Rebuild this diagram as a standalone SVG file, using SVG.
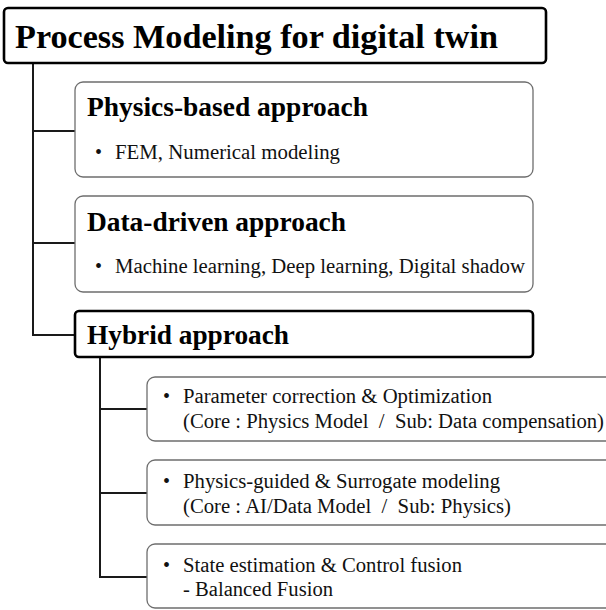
<svg xmlns="http://www.w3.org/2000/svg" width="606" height="610" viewBox="0 0 606 610">
  <style>
    .root { fill: #fff; stroke: #000; stroke-width: 2.6; }
    .main { fill: #fff; stroke: #000; stroke-width: 2.6; }
    .sub { fill: #fff; stroke: #6e6e6e; stroke-width: 1.3; }
    .wire { fill: none; stroke: #1a1a1a; stroke-width: 2; }
    text { font-family: "Liberation Serif", "Times New Roman", serif; fill: #000; }
    .h0 { font-size: 33px; font-weight: bold; }
    .h1 { font-size: 28px; font-weight: bold; }
    .b { font-size: 20px; fill: #111; }
  </style>

  <g id="connectors">
    <path class="wire" d="M33 63 V335 H75 M33 131 H75 M33 243 H75"/>
    <path class="wire" d="M100 357 V577 H147 M100 409 H147 M100 493 H147"/>
  </g>

  <g id="root">
    <rect class="root" x="4" y="8" width="542" height="55" rx="4"/>
    <text class="h0" x="15" y="48" textLength="483" lengthAdjust="spacingAndGlyphs">Process Modeling for digital twin</text>
  </g>

  <g id="physics">
    <rect class="sub" x="75" y="82" width="458" height="95" rx="8"/>
    <text class="h1" x="87" y="116" textLength="281" lengthAdjust="spacingAndGlyphs">Physics-based approach</text>
    <text class="b" x="95" y="159">•</text>
    <text class="b" x="115" y="159" textLength="225" lengthAdjust="spacingAndGlyphs">FEM, Numerical modeling</text>
  </g>

  <g id="data">
    <rect class="sub" x="75" y="196" width="458" height="96" rx="8"/>
    <text class="h1" x="87" y="231" textLength="259" lengthAdjust="spacingAndGlyphs">Data-driven approach</text>
    <text class="b" x="95" y="273">•</text>
    <text class="b" x="115" y="273" textLength="410" lengthAdjust="spacingAndGlyphs">Machine learning, Deep learning, Digital shadow</text>
  </g>

  <g id="hybrid">
    <rect class="main" x="75" y="311" width="458" height="46" rx="4"/>
    <text class="h1" x="87" y="344" textLength="202" lengthAdjust="spacingAndGlyphs">Hybrid approach</text>
  </g>

  <g id="param">
    <rect class="sub" x="147" y="377" width="470" height="64" rx="8"/>
    <text class="b" x="163" y="403">•</text>
    <text class="b" x="183" y="403" textLength="309" lengthAdjust="spacingAndGlyphs">Parameter correction &amp; Optimization</text>
    <text class="b" x="183" y="428" xml:space="preserve" textLength="421" lengthAdjust="spacingAndGlyphs">(Core : Physics Model  /  Sub: Data compensation)</text>
  </g>

  <g id="surrogate">
    <rect class="sub" x="147" y="460" width="470" height="65" rx="8"/>
    <text class="b" x="163" y="488">•</text>
    <text class="b" x="183" y="488" textLength="317" lengthAdjust="spacingAndGlyphs">Physics-guided &amp; Surrogate modeling</text>
    <text class="b" x="183" y="513" xml:space="preserve" textLength="328" lengthAdjust="spacingAndGlyphs">(Core : AI/Data Model  /  Sub: Physics)</text>
  </g>

  <g id="fusion">
    <rect class="sub" x="147" y="544" width="470" height="64" rx="8"/>
    <text class="b" x="163" y="572">•</text>
    <text class="b" x="183" y="572" textLength="279" lengthAdjust="spacingAndGlyphs">State estimation &amp; Control fusion</text>
    <text class="b" x="183" y="596" textLength="150" lengthAdjust="spacingAndGlyphs">- Balanced Fusion</text>
  </g>
</svg>
